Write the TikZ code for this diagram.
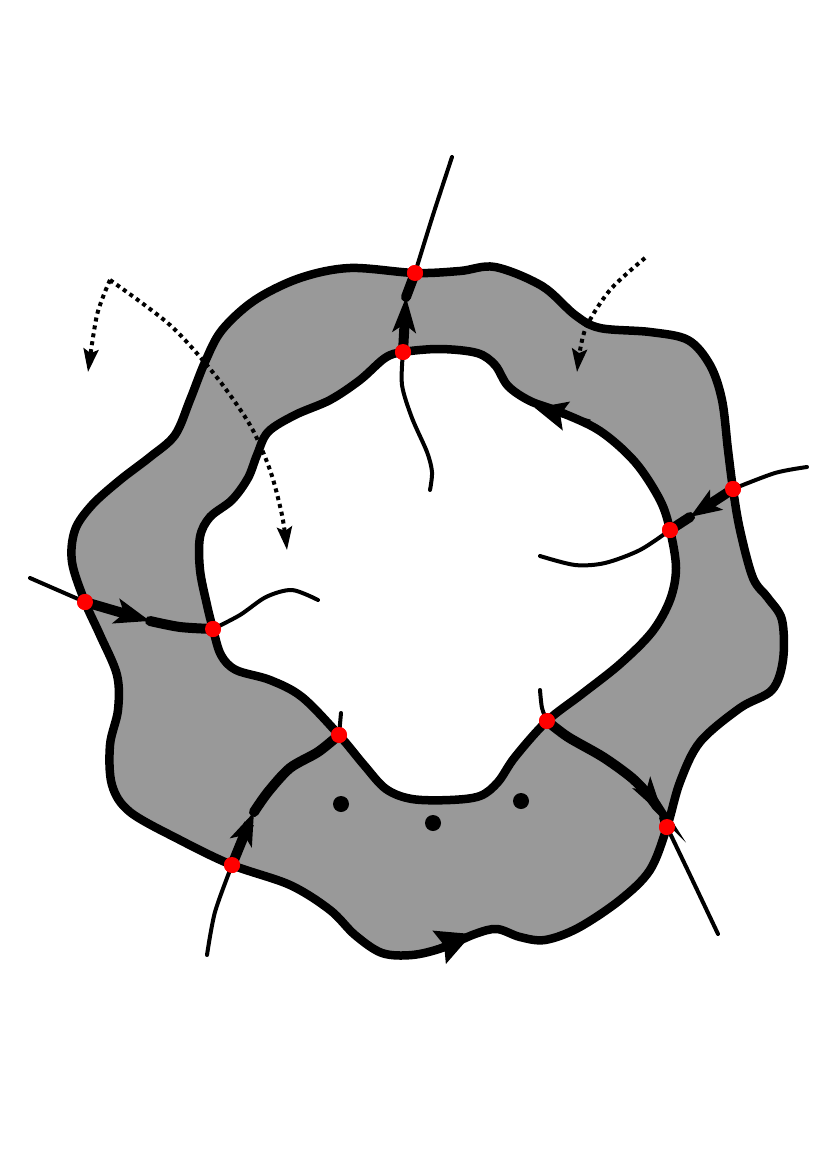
\documentclass[tikz,border=0pt]{standalone}
\usetikzlibrary{arrows.meta}
\definecolor{ringgray}{RGB}{153,153,153}
\begin{document}
\begin{tikzpicture}[x=1pt,y=-1pt,
  outline/.style={line width=8.5pt,line join=round},
  thinline/.style={line width=4pt,line cap=round},
  thickline/.style={line width=10pt,line cap=round},
  reddot/.style={circle,fill=red,minimum size=16pt,inner sep=0pt},
  blackdot/.style={circle,fill=black,minimum size=16pt,inner sep=0pt},
  dotline/.style={line width=4pt,dash pattern=on 4pt off 4pt},
  smalltip/.style={-{Stealth[length=23pt,width=15pt,inset=4pt]}}
]
\useasboundingbox (0,0) rectangle (827,1170);

% ring
\draw[outline,fill=ringgray,even odd rule]
 plot[smooth cycle,tension=0.55] coordinates {
 (415,273) (350,268) (300,278) (255,300) (222,330) (205,362) (190,400) (175,435) (150,457) (120,480) (92,505) (75,530) (72,562) (85,602)
 (100,635) (117,675) (118,710) (110,745) (112,785) (130,812) (180,840) (232,865)
 (290,885) (330,910) (355,935) (382,953) (412,955) (442,948) (475,934) (497,929) (520,937) (545,940) (578,928) (620,900) (650,870) (667,827)
 (680,782) (700,742) (740,708) (772,690) (783,660) (782,620) (768,598) (753,578) (740,530) (733,489)
 (728,450) (722,400) (710,365) (688,340) (650,332) (600,328) (575,315) (542,286) (495,267) (460,271)}
 plot[smooth cycle,tension=0.55] coordinates {
 (403,352) (385,358) (360,380) (330,400) (295,415) (268,432) (257,455) (248,478) (232,500) (210,517) (200,537) (200,570) (207,605) (213,629)
 (221,655) (236,670) (270,680) (302,697) (339,735)
 (364,765) (386,789) (412,799) (450,800) (480,796) (498,782) (515,757) (547,721)
 (582,694) (620,664) (652,632) (670,600) (676,568) (670,530)
 (660,500) (635,462) (600,431) (560,412) (530,401) (508,386) (495,365) (477,353) (440,349)};

% red crossing points
\node[reddot] (To) at (415,273) {};
\node[reddot] (Ti) at (403,352) {};
\node[reddot] (Ro) at (733,489) {};
\node[reddot] (Ri) at (670,530) {};
\node[reddot] (Lo) at (85,602) {};
\node[reddot] (Li) at (213,629) {};
\node[reddot] (BLo) at (232,865) {};
\node[reddot] (BLi) at (339,735) {};
\node[reddot] (BRi) at (547,721) {};
\node[reddot] (BRo) at (667,827) {};

\coordinate (Ta) at (452,157);
\coordinate (Tb) at (430,490);
\coordinate (Ra) at (807,467);
\coordinate (Rb) at (540,556);
\coordinate (La) at (30,578);
\coordinate (Lb) at (318,600);
\coordinate (BLa) at (207,955);
\coordinate (BLb) at (341,713);
\coordinate (BRa) at (540,690);
\coordinate (BRb) at (718,934);

% arrow tip points on the thick arcs
\coordinate (Tt) at (406,297);
\coordinate (Rt) at (690,517);
\coordinate (Lt) at (150,621);
\coordinate (BLt) at (254,812);
\coordinate (BRt) at (664,817);

% top arc
\draw[thinline] plot[smooth] coordinates {(Ta) (433,215) (To.center)};
\draw[thinline] plot[smooth] coordinates {(Ti.center) (402,385) (412,418) (427,452) (432,472) (Tb)};
\draw[thickline] (Tt) -- (To.center);
\draw[thickline,-{Stealth[length=35pt,width=23pt,inset=8pt]}] (Ti.center) -- (Tt);

% right arc
\draw[thinline] plot[smooth] coordinates {(Ra) (775,473) (Ro.center)};
\draw[thinline] plot[smooth] coordinates {(Ri.center) (640,550) (605,563) (575,565) (Rb)};
\draw[thickline] (Rt) -- (Ri.center);
\draw[thickline,-{Stealth[length=31pt,width=23pt,inset=7pt]}] (Ro.center) -- (Rt);

% left arc
\draw[thinline] (La) -- (Lo.center);
\draw[thinline] plot[smooth] coordinates {(Li.center) (240,615) (266,597) (292,590) (Lb)};
\draw[thickline] plot[smooth] coordinates {(Lt) (180,627) (Li.center)};
\draw[thickline,-{Stealth[length=35pt,width=25pt,inset=8pt]}] (Lo.center) -- (Lt);

% bottom-left arc
\draw[thinline] plot[smooth] coordinates {(BLa) (215,912) (BLo.center)};
\draw[thinline] (BLi.center) -- (BLb);
\draw[thickline] plot[smooth] coordinates {(BLt) (268,792) (290,768) (318,752) (BLi.center)};
\draw[thickline,-{Stealth[length=33pt,width=23pt,inset=8pt]}] plot[smooth] coordinates {(BLo.center) (243,838) (BLt)};

% bottom-right arc
\draw[thinline] plot[smooth] coordinates {(BRa) (542,708) (BRi.center)};
\draw[thinline] plot[smooth] coordinates {(BRo.center) (690,875) (BRb)};
\draw[thickline,-{Stealth[length=40pt,width=20pt,inset=8pt]}] plot[smooth] coordinates {(BRi.center) (568,737) (603,757) (632,778) (650,797) (BRt)};
\draw[thickline] (BRt) -- (BRo.center);

% arrows on the ring
\coordinate (OA1) at (425,953);
\coordinate (OA2) at (472,934);
\draw[line width=5pt,-{Stealth[length=35pt,width=35pt,inset=5pt]}] (OA1) -- (OA2);
\coordinate (IA1) at (590,422);
\coordinate (IA2) at (535,408);
\draw[line width=5pt,-{Stealth[length=32pt,width=29pt,inset=6pt]}] (IA1) -- (IA2);

% dotted arrows
\coordinate (D0) at (110,280);
\coordinate (D1) at (88,372);
\coordinate (D2) at (287,550);
\coordinate (D3a) at (645,258);
\coordinate (D3b) at (577,372);
\draw[dotline,smalltip] plot[smooth] coordinates {(D0) (97,315) (D1)};
\draw[dotline,smalltip] plot[smooth] coordinates {(D0) (170,325) (215,375) (250,425) (270,470) (282,515) (D2)};
\draw[dotline,smalltip] plot[smooth] coordinates {(D3a) (610,290) (585,330) (D3b)};

% black dots
\node[blackdot] (p1) at (341,804) {};
\node[blackdot] (p2) at (433,823) {};
\node[blackdot] (p3) at (521,801) {};

% red dots on top
\foreach \n in {To,Ti,Ro,Ri,Lo,Li,BLo,BLi,BRi,BRo} \fill[red] (\n) circle[radius=8];
\end{tikzpicture}
\end{document}
